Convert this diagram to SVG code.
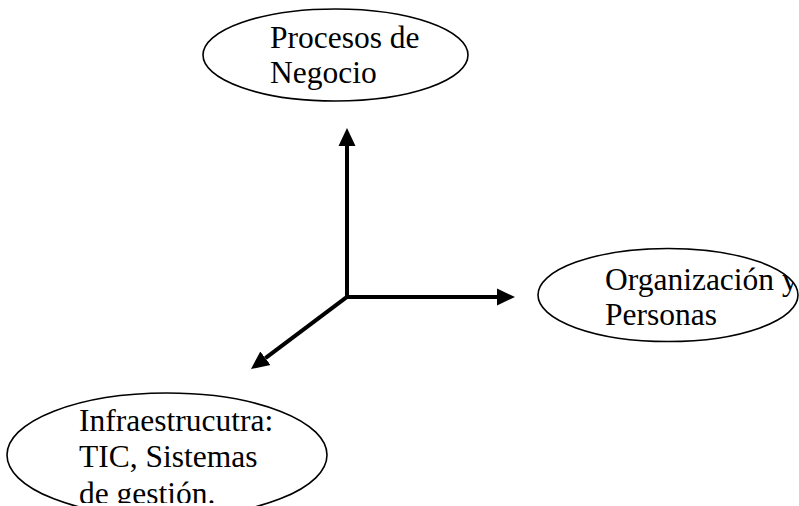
<svg xmlns="http://www.w3.org/2000/svg" width="799" height="506" viewBox="0 0 799 506">
  <style>
    .shape { fill: #ffffff; stroke: #000000; stroke-width: 1.6; }
    .label { font-family: "Liberation Serif", "Times New Roman", serif; font-size: 31.5px; fill: #000000; }
    .axis { stroke: #000000; stroke-width: 4; fill: none; }
  </style>
  <defs>
    <marker id="head" markerUnits="userSpaceOnUse" markerWidth="19" markerHeight="18" refX="0" refY="8.5" orient="auto" viewBox="0 0 19 17">
      <path d="M0,0 L18,8.5 L0,17 z" fill="#000000"/>
    </marker>
    <clipPath id="clip-org">
      <ellipse cx="668" cy="295" rx="130" ry="46.5"/>
    </clipPath>
    <clipPath id="clip-infra">
      <rect x="0" y="390" width="340" height="113"/>
    </clipPath>
  </defs>

  <!-- three axes from a common origin -->
  <g id="connectors">
    <line class="axis" x1="347" y1="297" x2="347" y2="146" marker-end="url(#head)"/>
    <line class="axis" x1="345" y1="297" x2="497" y2="297" marker-end="url(#head)"/>
    <line class="axis" x1="348" y1="296.2" x2="265.4" y2="358.2" marker-end="url(#head)"/>
  </g>

  <g id="procesos">
    <ellipse class="shape" cx="335.5" cy="55" rx="132.5" ry="46"/>
    <text class="label" x="270" y="48">Procesos de</text>
    <text class="label" x="270" y="83">Negocio</text>
  </g>

  <g id="organizacion">
    <ellipse class="shape" cx="668" cy="295" rx="130" ry="46.5"/>
    <g clip-path="url(#clip-org)">
      <text class="label" x="605" y="290">Organización y</text>
      <text class="label" x="605" y="325">Personas</text>
    </g>
  </g>

  <g id="infraestructura">
    <ellipse class="shape" cx="167" cy="455" rx="160" ry="62"/>
    <g clip-path="url(#clip-infra)">
      <text class="label" x="79" y="431">Infraestrucutra:</text>
      <text class="label" x="79" y="467">TIC, Sistemas</text>
      <text class="label" x="79" y="504">de gestión.</text>
    </g>
  </g>
</svg>
